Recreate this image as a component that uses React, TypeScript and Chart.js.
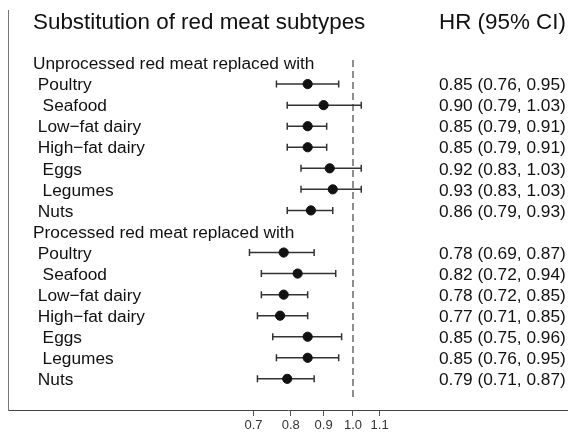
import React, { useEffect, useRef } from "react";
import { Chart, registerables } from "chart.js";

Chart.register(...registerables);

const TITLE = "Substitution of red meat subtypes";
const HR_HEADER = "HR (95% CI)";
const UNPROC_HEADER = "Unprocessed red meat replaced with";
const PROC_HEADER = "Processed red meat replaced with";
const SUBSTITUTES = [" Poultry", "  Seafood", " Low\u2212fat dairy", " High\u2212fat dairy", "  Eggs", "  Legumes", " Nuts"];

const unprocHR = [0.85, 0.9, 0.85, 0.85, 0.92, 0.93, 0.86];
const unprocLower = [0.76, 0.79, 0.79, 0.79, 0.83, 0.83, 0.79];
const unprocUpper = [0.95, 1.03, 0.91, 0.91, 1.03, 1.03, 0.93];

const procHR = [0.78, 0.82, 0.78, 0.77, 0.85, 0.85, 0.79];
const procLower = [0.69, 0.72, 0.72, 0.71, 0.75, 0.76, 0.71];
const procUpper = [0.87, 0.94, 0.85, 0.85, 0.96, 0.95, 0.87];

const X_TICKS = [0.7, 0.8, 0.9, 1.0, 1.1];
const REF_LINE = 1.0;

const FONT = "'Liberation Sans', Arial, Helvetica, sans-serif";

type Row = { label: string; row: number; hr?: number; lo?: number; up?: number; header?: boolean };

function buildRows(): Row[] {
  const rows: Row[] = [];
  rows.push({ label: UNPROC_HEADER, row: 2, header: true });
  SUBSTITUTES.forEach((s, i) =>
    rows.push({ label: s, row: 3 + i, hr: unprocHR[i], lo: unprocLower[i], up: unprocUpper[i] })
  );
  rows.push({ label: PROC_HEADER, row: 10, header: true });
  SUBSTITUTES.forEach((s, i) =>
    rows.push({ label: s, row: 11 + i, hr: procHR[i], lo: procLower[i], up: procUpper[i] })
  );
  return rows;
}

export default function App() {
  const ref = useRef<HTMLCanvasElement | null>(null);

  useEffect(() => {
    if (!ref.current) return;
    const rows = buildRows();
    const dataRows = rows.filter((r) => !r.header);

    const forestPlugin = {
      id: "forest",
      beforeDatasetsDraw(chart: any) {
        const { ctx, scales } = chart;
        const xs = scales.x;
        const ys = scales.y;
        ctx.save();
        const xr = xs.getPixelForValue(REF_LINE);
        ctx.strokeStyle = "#444";
        ctx.lineWidth = 1.2;
        ctx.setLineDash([7, 4]);
        ctx.beginPath();
        ctx.moveTo(xr, ys.getPixelForValue(1.85));
        ctx.lineTo(xr, ys.getPixelForValue(18.0));
        ctx.stroke();
        ctx.setLineDash([]);
        ctx.strokeStyle = "#333";
        ctx.lineWidth = 1.5;
        dataRows.forEach((r) => {
          const y = ys.getPixelForValue(r.row);
          const x1 = xs.getPixelForValue(r.lo);
          const x2 = xs.getPixelForValue(r.up);
          ctx.beginPath();
          ctx.moveTo(x1, y);
          ctx.lineTo(x2, y);
          ctx.moveTo(x1, y - 3.5);
          ctx.lineTo(x1, y + 3.5);
          ctx.moveTo(x2, y - 3.5);
          ctx.lineTo(x2, y + 3.5);
          ctx.stroke();
        });
        ctx.restore();
      },
      afterDraw(chart: any) {
        const { ctx, scales } = chart;
        const ys = scales.y;
        ctx.save();
        ctx.fillStyle = "#111";
        ctx.textBaseline = "alphabetic";
        const titleSize = 22.4;
        const size = 17.3;
        const yTitle = ys.getPixelForValue(0);
        ctx.font = `${titleSize}px ${FONT}`;
        ctx.textAlign = "left";
        ctx.fillText(TITLE, 33, yTitle + titleSize * 0.36);
        ctx.fillText(HR_HEADER, 439, yTitle + titleSize * 0.36);
        ctx.font = `${size}px ${FONT}`;
        rows.forEach((r) => {
          const y = ys.getPixelForValue(r.row) + size * 0.36;
          ctx.fillText(r.label, 33, y);
          if (!r.header) {
            const txt = `${r.hr!.toFixed(2)} (${r.lo!.toFixed(2)}, ${r.up!.toFixed(2)})`;
            ctx.fillText(txt, 439, y);
          }
        });
        ctx.restore();
      },
    };

    const chart = new Chart(ref.current, {
      type: "scatter",
      data: {
        datasets: [
          {
            data: dataRows.map((r) => ({ x: r.hr as number, y: r.row })),
            backgroundColor: "#111",
            borderColor: "#111",
            pointRadius: 4.6,
            pointHoverRadius: 4.6,
          },
        ],
      },
      options: {
        animation: false,
        responsive: true,
        maintainAspectRatio: false,
        events: [],
        layout: { autoPadding: false, padding: { top: 10, left: 0, right: 0, bottom: 0 } },
        plugins: { legend: { display: false }, tooltip: { enabled: false } },
        scales: {
          x: {
            type: "logarithmic",
            bounds: "data",
            min: Math.exp((8 - 353) / 279),
            max: Math.exp((568 - 353) / 279),
            afterBuildTicks(scale: any) {
              scale.ticks = X_TICKS.map((v) => ({ value: v }));
            },
            afterFit(scale: any) {
              scale.height = 25;
              scale.paddingLeft = 0;
              scale.paddingRight = 0;
            },
            ticks: {
              autoSkip: false,
              maxRotation: 0,
              padding: 2,
              color: "#333",
              font: { family: FONT, size: 13 },
              callback: (v: any) => Number(v).toFixed(1),
            },
            grid: {
              display: true,
              drawOnChartArea: false,
              drawTicks: true,
              tickLength: 6,
              color: "#555",
              lineWidth: 1,
            },
            border: { display: true, color: "#444", width: 1 },
          },
          y: {
            type: "linear",
            reverse: true,
            min: -0.52,
            max: 18.48,
            afterFit(scale: any) {
              scale.width = 8;
              scale.paddingTop = 0;
              scale.paddingBottom = 0;
            },
            ticks: { display: false },
            grid: { display: false, drawTicks: false },
            border: { display: true, color: "#777", width: 1 },
          },
        },
      },
      plugins: [forestPlugin],
    });
    return () => chart.destroy();
  }, []);

  return (
    <div style={{ position: "absolute", left: 0, top: 0, width: 568, height: 435, background: "#fff" }}>
      <canvas ref={ref} />
    </div>
  );
}
